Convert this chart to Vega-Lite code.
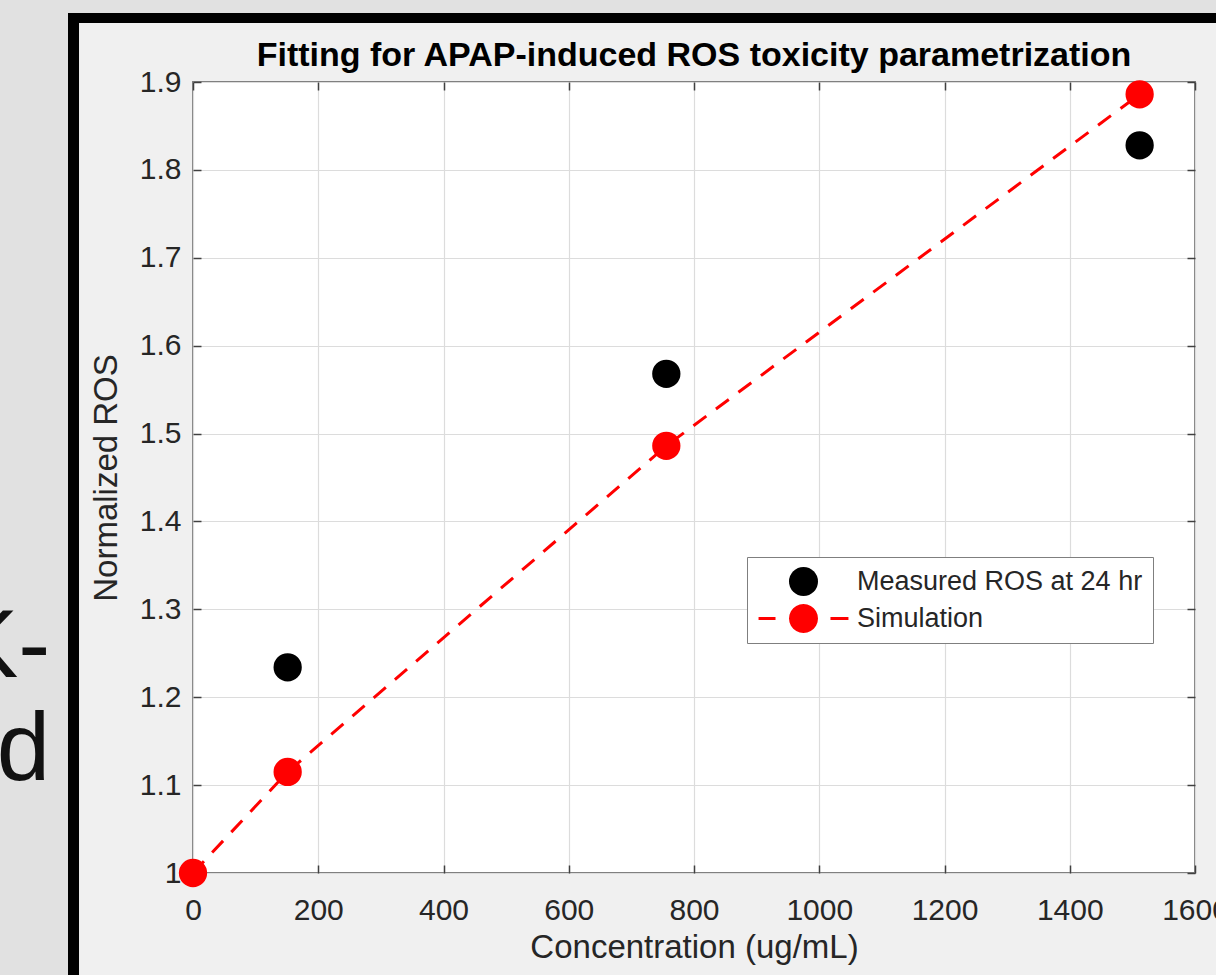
{
  "$schema": "https://vega.github.io/schema/vega-lite/v6.json",
  "width": 1002,
  "height": 791,
  "autosize": {"type": "none"},
  "padding": {"left": 193, "top": 82, "right": 21, "bottom": 102},
  "background": "#f0f0f0",
  "title": {"text": "Fitting for APAP-induced ROS toxicity parametrization", "font": "Liberation Sans", "fontSize": 34, "fontWeight": "bold", "color": "#000000", "anchor": "middle", "frame": "group", "offset": 0, "dy": 100, "baseline": "alphabetic"},
  "config": {
    "view": {"fill": "#ffffff", "stroke": "#808080", "strokeWidth": 2},
    "axis": {"labelFont": "Liberation Sans", "titleFont": "Liberation Sans", "labelFontSize": 30, "titleFontSize": 33, "titleFontWeight": "normal", "labelColor": "#262626", "titleColor": "#262626", "gridColor": "#dcdcdc", "gridWidth": 1.2, "domain": false, "tickColor": "#404040", "tickWidth": 1.5, "tickSize": -8}
  },
  "datasets": {
    "pts": [
      {"series": "Measured ROS at 24 hr", "conc": 151.16, "ros": 1.234},
      {"series": "Measured ROS at 24 hr", "conc": 755.8, "ros": 1.568},
      {"series": "Measured ROS at 24 hr", "conc": 1511.6, "ros": 1.828},
      {"series": "Simulation", "conc": 0, "ros": 1.0},
      {"series": "Simulation", "conc": 151.16, "ros": 1.115},
      {"series": "Simulation", "conc": 755.8, "ros": 1.486},
      {"series": "Simulation", "conc": 1511.6, "ros": 1.886}
    ],
    "frame": [
      {"part": "gray", "conc": -400, "conc2": -199.6, "ros": 0.8, "ros2": 1.9933},
      {"part": "gray", "conc": -400, "conc2": 1800, "ros": 1.9785, "ros2": 1.9933},
      {"part": "black", "conc": -199.6, "conc2": -182.0, "ros": 0.8, "ros2": 1.9785},
      {"part": "black", "conc": -199.6, "conc2": 1800, "ros": 1.9671, "ros2": 1.9785}
    ],
    "slide": [
      {"label": "K-", "conc": -228, "ros": 1.223},
      {"label": "d", "conc": -228, "ros": 1.1058}
    ]
  },
  "resolve": {"axis": {"x": "independent", "y": "independent"}},
  "layer": [
    {
      "data": {"name": "frame"},
      "transform": [{"filter": "datum.part === 'gray'"}],
      "mark": {"type": "rect", "color": "#e1e1e1"},
      "encoding": {
        "x": {"field": "conc", "type": "quantitative", "scale": {"domain": [0, 1600], "nice": false, "zero": false}, "axis": null},
        "x2": {"field": "conc2"},
        "y": {"field": "ros", "type": "quantitative", "scale": {"domain": [1, 1.9], "nice": false, "zero": false}, "axis": null},
        "y2": {"field": "ros2"}
      }
    },
    {
      "data": {"name": "frame"},
      "transform": [{"filter": "datum.part === 'black'"}],
      "mark": {"type": "rect", "color": "#000000"},
      "encoding": {
        "x": {"field": "conc", "type": "quantitative", "scale": {"domain": [0, 1600], "nice": false, "zero": false}, "axis": null},
        "x2": {"field": "conc2"},
        "y": {"field": "ros", "type": "quantitative", "scale": {"domain": [1, 1.9], "nice": false, "zero": false}, "axis": null},
        "y2": {"field": "ros2"}
      }
    },
    {
      "data": {"name": "slide"},
      "mark": {"type": "text", "align": "right", "baseline": "alphabetic", "font": "Liberation Sans", "fontSize": 96, "color": "#111111"},
      "encoding": {
        "x": {"field": "conc", "type": "quantitative", "scale": {"domain": [0, 1600], "nice": false, "zero": false}, "axis": null},
        "y": {"field": "ros", "type": "quantitative", "scale": {"domain": [1, 1.9], "nice": false, "zero": false}, "axis": null},
        "text": {"field": "label"}
      }
    },
    {
      "data": {"name": "pts"},
      "transform": [{"filter": "datum.series === 'Simulation'"}],
      "mark": {"type": "line", "color": "#ff0000", "strokeWidth": 3, "strokeDash": [16, 12]},
      "encoding": {
        "x": {"field": "conc", "type": "quantitative", "scale": {"domain": [0, 1600], "nice": false, "zero": false},
              "axis": {"orient": "top", "labels": false, "grid": false, "title": null, "values": [0, 200, 400, 600, 800, 1000, 1200, 1400, 1600]}},
        "y": {"field": "ros", "type": "quantitative", "scale": {"domain": [1, 1.9], "nice": false, "zero": false},
              "axis": {"orient": "right", "labels": false, "grid": false, "title": null, "values": [1, 1.1, 1.2, 1.3, 1.4, 1.5, 1.6, 1.7, 1.8, 1.9]}}
      }
    },
    {
      "data": {"name": "pts"},
      "transform": [{"filter": "false"}],
      "mark": {"type": "point", "filled": true, "size": 841, "opacity": 1, "strokeWidth": 0},
      "encoding": {
        "x": {"field": "conc", "type": "quantitative", "scale": {"domain": [0, 1600], "nice": false, "zero": false}, "axis": null},
        "y": {"field": "ros", "type": "quantitative", "scale": {"domain": [1, 1.9], "nice": false, "zero": false}, "axis": null},
        "shape": {"field": "series", "type": "nominal",
                  "scale": {"domain": ["Measured ROS at 24 hr", "Simulation"], "range": ["circle", "M 1 0 L 0.9659 0.2588 L 0.866 0.5 L 0.7071 0.7071 L 0.5 0.866 L 0.2588 0.9659 L 0 1 L -0.2588 0.9659 L -0.5 0.866 L -0.7071 0.7071 L -0.866 0.5 L -0.9659 0.2588 L -1 0 L -0.9659 -0.2588 L -0.866 -0.5 L -0.7071 -0.7071 L -0.5 -0.866 L -0.2588 -0.9659 L 0 -1 L 0.2588 -0.9659 L 0.5 -0.866 L 0.7071 -0.7071 L 0.866 -0.5 L 0.9659 -0.2588 Z M -3.1 -0.103 L -1.93 -0.103 L -1.93 0.103 L -3.1 0.103 Z M 1.86 -0.103 L 3.1 -0.103 L 3.1 0.103 L 1.86 0.103 Z"]}},
        "color": {"field": "series", "type": "nominal",
                  "scale": {"domain": ["Measured ROS at 24 hr", "Simulation"], "range": ["#000000", "#ff0000"]},
                  "legend": {"title": null, "orient": "none", "legendX": 554, "legendY": 475, "fillColor": "#ffffff", "strokeColor": "#7f7f7f", "padding": 10, "rowPadding": 8, "symbolSize": 841, "symbolStrokeWidth": 0, "symbolOffset": 32, "labelOffset": 39, "labelFont": "Liberation Sans", "labelFontSize": 27, "labelColor": "#262626", "labelLimit": 0}}
      }
    },
    {
      "data": {"name": "pts"},
      "mark": {"type": "point", "filled": true, "shape": "circle", "size": 800, "opacity": 1, "strokeWidth": 0},
      "encoding": {
        "x": {"field": "conc", "type": "quantitative", "scale": {"domain": [0, 1600], "nice": false, "zero": false},
              "axis": {"orient": "bottom", "title": "Concentration (ug/mL)", "grid": true, "values": [0, 200, 400, 600, 800, 1000, 1200, 1400, 1600], "format": "d", "labelPadding": 30, "titlePadding": 6, "labelOverlap": false, "labelFlush": false, "labelBound": false}},
        "y": {"field": "ros", "type": "quantitative", "scale": {"domain": [1, 1.9], "nice": false, "zero": false},
              "axis": {"orient": "left", "title": "Normalized ROS", "grid": true, "values": [1, 1.1, 1.2, 1.3, 1.4, 1.5, 1.6, 1.7, 1.8, 1.9], "format": "~g", "labelPadding": 20, "titlePadding": 16, "labelOverlap": false}},
        "color": {"field": "series", "type": "nominal",
                  "scale": {"domain": ["Measured ROS at 24 hr", "Simulation"], "range": ["#000000", "#ff0000"]},
                  "legend": null}
      }
    }
  ]
}
